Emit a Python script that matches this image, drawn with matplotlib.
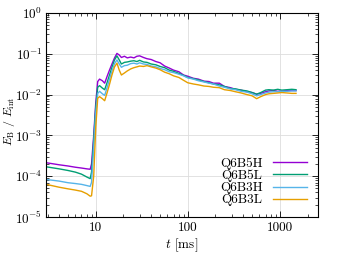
import numpy as np
import matplotlib
matplotlib.use("Agg")
import matplotlib.pyplot as plt

plt.rcParams['font.family'] = ['cmr10', 'DejaVu Serif']
plt.rcParams['mathtext.fontset'] = 'cm'
plt.rcParams['axes.formatter.use_mathtext'] = True
plt.rcParams['font.size'] = 9.5

t_ms = [2.9, 4, 5, 6, 7, 8, 8.7, 9.0, 9.5, 10.0,
        10.5, 11, 11.8, 12.5, 13.3, 14.1, 15, 16, 17, 18,
        19, 20.5, 22, 24, 26, 28, 30, 33, 36, 40,
        45, 50, 56, 63, 70, 80, 90, 100, 115, 130,
        150, 170, 190, 220, 250, 290, 330, 380, 440, 500,
        560, 620, 700, 760, 850, 950, 1050, 1200, 1350, 1500]

# log10 of E_B / E_int
q6b5h = [-3.67, -3.72, -3.75, -3.78, -3.80, -3.82, -3.83, -3.70, -3.00, -2.20,
         -1.68, -1.62, -1.66, -1.72, -1.55, -1.40, -1.25, -1.10, -0.99, -1.03,
         -1.09, -1.06, -1.10, -1.08, -1.10, -1.06, -1.05, -1.09, -1.12, -1.14,
         -1.19, -1.22, -1.30, -1.35, -1.40, -1.44, -1.52, -1.55, -1.60, -1.62,
         -1.67, -1.68, -1.72, -1.72, -1.80, -1.83, -1.87, -1.89, -1.93, -1.95,
         -1.99, -1.97, -1.93, -1.91, -1.90, -1.92, -1.91, -1.90, -1.90, -1.90]
q6b5l = [-3.77, -3.82, -3.86, -3.90, -3.95, -4.02, -4.06, -3.90, -3.10, -2.30,
         -1.82, -1.78, -1.84, -1.88, -1.70, -1.52, -1.33, -1.15, -1.05, -1.15,
         -1.25, -1.21, -1.20, -1.18, -1.17, -1.19, -1.16, -1.20, -1.21, -1.25,
         -1.27, -1.31, -1.34, -1.40, -1.43, -1.48, -1.53, -1.58, -1.61, -1.64,
         -1.68, -1.71, -1.74, -1.76, -1.80, -1.85, -1.86, -1.89, -1.91, -1.95,
         -1.99, -1.95, -1.89, -1.88, -1.89, -1.87, -1.89, -1.88, -1.87, -1.88]
q6b3h = [-4.08, -4.12, -4.16, -4.18, -4.20, -4.23, -4.25, -4.15, -3.30, -2.45,
         -1.97, -1.92, -1.98, -2.02, -1.82, -1.62, -1.42, -1.24, -1.15, -1.25,
         -1.33, -1.29, -1.28, -1.24, -1.23, -1.25, -1.22, -1.25, -1.26, -1.30,
         -1.32, -1.36, -1.39, -1.44, -1.46, -1.50, -1.54, -1.59, -1.62, -1.66,
         -1.69, -1.72, -1.74, -1.79, -1.82, -1.86, -1.88, -1.92, -1.94, -1.98,
         -2.03, -2.00, -1.96, -1.94, -1.93, -1.93, -1.92, -1.92, -1.91, -1.91]
q6b3l = [-4.20, -4.27, -4.31, -4.34, -4.37, -4.43, -4.49, -4.48, -4.00, -2.80,
         -2.09, -2.05, -2.10, -2.15, -1.95, -1.75, -1.52, -1.32, -1.23, -1.40,
         -1.52, -1.47, -1.42, -1.37, -1.34, -1.32, -1.30, -1.31, -1.29, -1.32,
         -1.35, -1.39, -1.45, -1.49, -1.54, -1.58, -1.65, -1.71, -1.74, -1.76,
         -1.79, -1.80, -1.82, -1.83, -1.88, -1.90, -1.93, -1.96, -2.00, -2.03,
         -2.10, -2.05, -2.00, -1.98, -1.97, -1.96, -1.95, -1.96, -1.97, -1.97]

labels = ["Q6B5H", "Q6B5L", "Q6B3H", "Q6B3L"]
colors = ["#9400d3", "#009e73", "#56b4e9", "#e69f00"]

fig = plt.figure(figsize=(3.38, 2.54), dpi=100)
ax = fig.add_axes([46/338, 1 - 217/254, (318-46)/338, (217-13)/254])

t = np.array(t_ms)
for series, lab, col in zip([q6b5h, q6b5l, q6b3h, q6b3l], labels, colors):
    ax.plot(t, 10.0 ** np.array(series), color=col, lw=1.0, label=lab)

ax.set_xscale('log')
ax.set_yscale('log')
ax.set_xlim(2.88, 2600)
ax.set_ylim(1e-5, 1)
ax.set_xticks([10, 100, 1000])
ax.set_xticklabels(["10", "100", "1000"])
ax.set_yticks([1e-5, 1e-4, 1e-3, 1e-2, 1e-1, 1])
ax.grid(True, which='major', color='#dddddd', lw=0.6)
ax.set_axisbelow(True)
ax.tick_params(which='both', direction='in', top=True, right=True)
ax.tick_params(which='major', length=4, width=0.6)
ax.tick_params(which='minor', length=2, width=0.5)
ax.tick_params(axis='y', which='major', pad=2.5)
for s in ax.spines.values():
    s.set_linewidth(0.8)

ax.set_xlabel(r"$t$ [ms]", labelpad=2)
ax.set_ylabel(r"$E_\mathrm{B}$ / $E_\mathrm{int}$", fontsize=8.5)
ax.yaxis.set_label_coords(-0.105, 0.47)

ax.legend(loc='lower right', frameon=False, markerfirst=False,
          handlelength=2.6, labelspacing=0.0, borderaxespad=0.4,
          handletextpad=0.8)

fig.savefig("out.png", dpi=100)
